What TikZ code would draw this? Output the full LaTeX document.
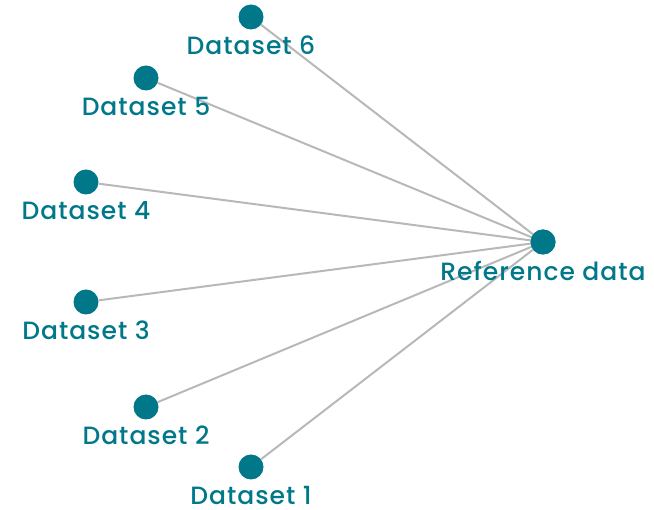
\documentclass[tikz,border=0pt]{standalone}
\usepackage{fontspec}
\setmainfont{Poppins}[UprightFont=* Medium,LetterSpace=4]
\definecolor{teal1}{HTML}{00788A}
\definecolor{edgegray}{HTML}{B8B8B8}
\begin{document}
\begin{tikzpicture}[x=1pt,y=-1pt,
  dot/.style={circle,fill=teal1,minimum size=25pt,inner sep=0pt},
  lbl/.style={text=teal1,font=\fontsize{25}{28}\selectfont,inner sep=0pt,text depth=0pt,anchor=base},
  edge/.style={draw=edgegray,line width=2pt}]
\useasboundingbox (0,0) rectangle (654,510);
\node[dot] (r) at (543,242) {};
\node[dot] (d6) at (251,17) {};
\node[dot] (d5) at (146,78) {};
\node[dot] (d4) at (86,182) {};
\node[dot] (d3) at (86,302) {};
\node[dot] (d2) at (146,407) {};
\node[dot] (d1) at (251,467) {};
\foreach \d in {d1,d2,d3,d4,d5,d6}{\draw[edge] (\d) -- (r.center);}
\node[dot] at (r) {};
\node[lbl] (l6) at (251,55) {Dataset 6};
\node[lbl] (l5) at (146,116) {Dataset 5};
\node[lbl] (l4) at (86,220) {Dataset 4};
\node[lbl] (l3) at (86,340) {Dataset 3};
\node[lbl] (l2) at (146,445) {Dataset 2};
\node[lbl] (l1) at (251,505) {Dataset 1};
\node[lbl] (lr) at (543,281) {Reference data};
\end{tikzpicture}
\end{document}
